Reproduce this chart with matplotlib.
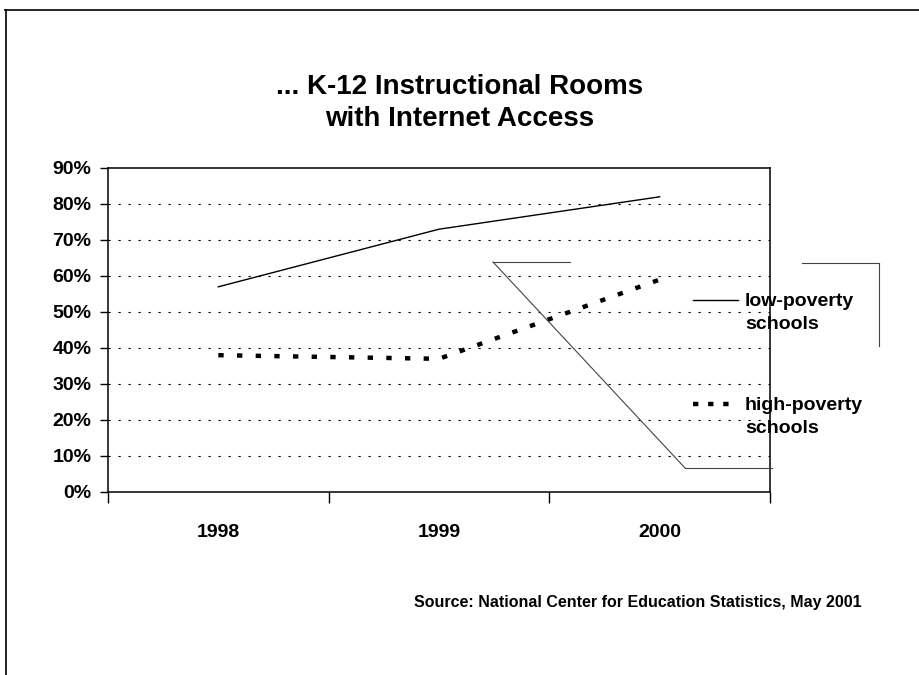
import matplotlib.pyplot as plt
from matplotlib.lines import Line2D

plt.rcParams['font.family'] = ['Liberation Sans', 'DejaVu Sans']
plt.rcParams['font.weight'] = 'bold'

years = ['1998', '1999', '2000']
low_poverty = [57, 73, 82]
high_poverty = [38, 37, 59]
y_ticks = [0, 10, 20, 30, 40, 50, 60, 70, 80, 90]
series_names = ['low-poverty\nschools', 'high-poverty\nschools']

W, H = 920, 675
def fx(px):
    return px / W
def fy(py):
    return 1 - py / H

fig = plt.figure(figsize=(9.2, 6.75), dpi=100)
ax = fig.add_axes([fx(108), fy(492), fx(770) - fx(108), fy(168) - fy(492)])

solid = dict(color='black', lw=1.0)
dashed = dict(color='black', lw=3.2, linestyle=(0, (1.2, 3.0)))

pos = list(range(len(years)))
ax.plot(pos, low_poverty, **solid)
ax.plot(pos, high_poverty, **dashed)

ax.set_xlim(-0.5, len(years) - 0.5)
ax.set_ylim(0, 90)

# y axis
ax.set_yticks(y_ticks)
ax.set_yticklabels([f'{v}%' for v in y_ticks], fontsize=14, fontweight='bold')
ax.tick_params(axis='y', direction='out', length=6, width=1, pad=6)
for v in y_ticks[1:-1]:
    ax.axhline(v, color='black', lw=0.8, linestyle=(0, (2, 7)), zorder=0)

# x axis: ticks on category boundaries, labels in the middle
ax.set_xticks([p - 0.5 for p in pos] + [pos[-1] + 0.5])
ax.set_xticklabels([])
ax.tick_params(axis='x', which='major', direction='out', length=8, width=1)
ax.set_xticks(pos, minor=True)
ax.set_xticklabels(years, minor=True, fontsize=14, fontweight='bold')
ax.tick_params(axis='x', which='minor', length=0, pad=23)

for s in ax.spines.values():
    s.set_linewidth(1.1)

# legend drawn by hand, like the slide
legend_rows = [(300, solid), (404, {**dashed, 'linestyle': (0, (1.2, 2.2))})]
for name, (ypx, style) in zip(series_names, legend_rows):
    fig.add_artist(Line2D([fx(693), fx(738)], [fy(ypx), fy(ypx)], **style))
    fig.text(fx(745), fy(ypx - 7), name, ha='left', va='top', fontsize=14,
             fontweight='bold', linespacing=1.45)

# stray leader / frame fragments from the scanned slide
stray = [([493, 570], [262, 262]), ([493, 685], [262, 468]), ([685, 772], [468, 468]),
         ([802, 879], [263, 263]), ([879, 879], [263, 346])]
for xs, ys in stray:
    fig.add_artist(Line2D([fx(x) for x in xs], [fy(y) for y in ys],
                          color='#444444', lw=0.8))

# slide frame (top and left edges)
fig.add_artist(Line2D([fx(5), fx(920)], [fy(10), fy(10)], color='black', lw=1.2))
fig.add_artist(Line2D([fx(6), fx(6)], [fy(10), fy(675)], color='black', lw=1.2))

fig.text(0.5, fy(103), '... K-12 Instructional Rooms\nwith Internet Access',
         ha='center', va='center', fontsize=20, fontweight='bold', linespacing=1.3)
fig.text(fx(862), fy(602), 'Source: National Center for Education Statistics, May 2001',
         ha='right', va='center', fontsize=11.5, fontweight='bold')

fig.savefig('out.png', dpi=100)
